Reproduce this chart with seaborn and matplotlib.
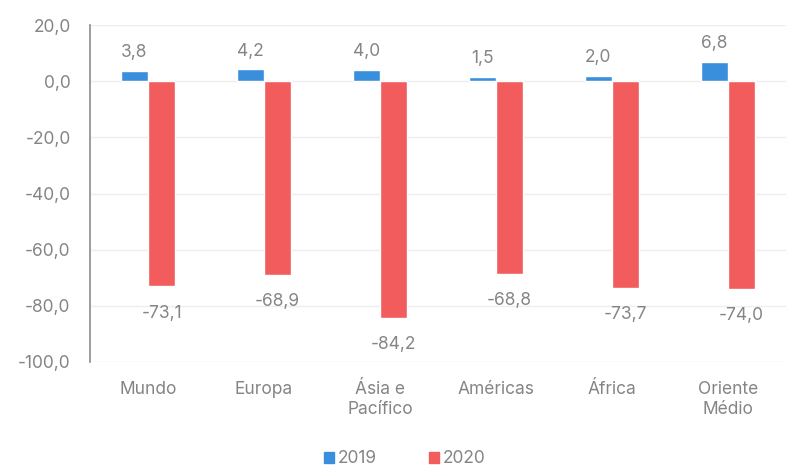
import matplotlib
matplotlib.use('agg')
import matplotlib.pyplot as plt
import pandas as pd
import seaborn as sns
from matplotlib.patches import Patch

regions = ["Mundo", "Europa", "Ásia e\nPacífico", "Américas", "África", "Oriente\nMédio"]
values_2019 = [3.8, 4.2, 4.0, 1.5, 2.0, 6.8]
values_2020 = [-73.1, -68.9, -84.2, -68.8, -73.7, -74.0]
years = ["2019", "2020"]
yticks = [20, 0, -20, -40, -60, -80, -100]

blue = "#3a8fdc"
red = "#f25c5c"
txt = "#858585"

df = pd.DataFrame({
    "region": regions * 2,
    "year": [years[0]] * len(regions) + [years[1]] * len(regions),
    "value": values_2019 + values_2020,
})

sns.set_style("white")
plt.rcParams["font.family"] = ["Inter", "DejaVu Sans"]
fs = 12.5

fig = plt.figure(figsize=(7.86, 4.68), dpi=100)
ax = fig.add_axes([0.1145, 0.2265, 0.8855, 0.72])

sns.barplot(data=df, x="region", y="value", hue="year", order=regions,
            hue_order=years, palette=[blue, red], width=0.47, gap=0,
            saturation=1, ax=ax, legend=False, errorbar=None)

def fmt(v):
    return ("%.1f" % v).replace(".", ",")

for cont, vals, pad in zip(ax.containers, [values_2019, values_2020], [7, 13]):
    ax.bar_label(cont, labels=[fmt(v) for v in vals], padding=pad,
                 fontsize=fs, color=txt)

ax.set_ylim(-100, 20)
ax.set_yticks(yticks)
ax.set_yticklabels([fmt(v) for v in yticks])
ax.set_xlim(-0.5, len(regions) - 0.5)
ax.yaxis.grid(True, color="#eeeeee", linewidth=1)
ax.set_axisbelow(True)
ax.tick_params(axis="both", labelsize=fs, labelcolor=txt, length=0)
ax.tick_params(axis="x", pad=14)
ax.tick_params(axis="y", pad=14)
ax.set_xlabel("")
ax.set_ylabel("")
for s in ["top", "right", "bottom"]:
    ax.spines[s].set_visible(False)
ax.spines["left"].set_color("#8c8c8c")
ax.spines["left"].set_linewidth(1.2)

handles = [Patch(color=blue, label=years[0]), Patch(color=red, label=years[1])]
fig.legend(handles=handles, loc="center", bbox_to_anchor=(0.515, 0.02), ncol=2,
           frameon=False, fontsize=fs, labelcolor=txt, handlelength=0.6,
           handleheight=0.6, handletextpad=0.2, columnspacing=3.0)

fig.savefig("out.png", dpi=100)
